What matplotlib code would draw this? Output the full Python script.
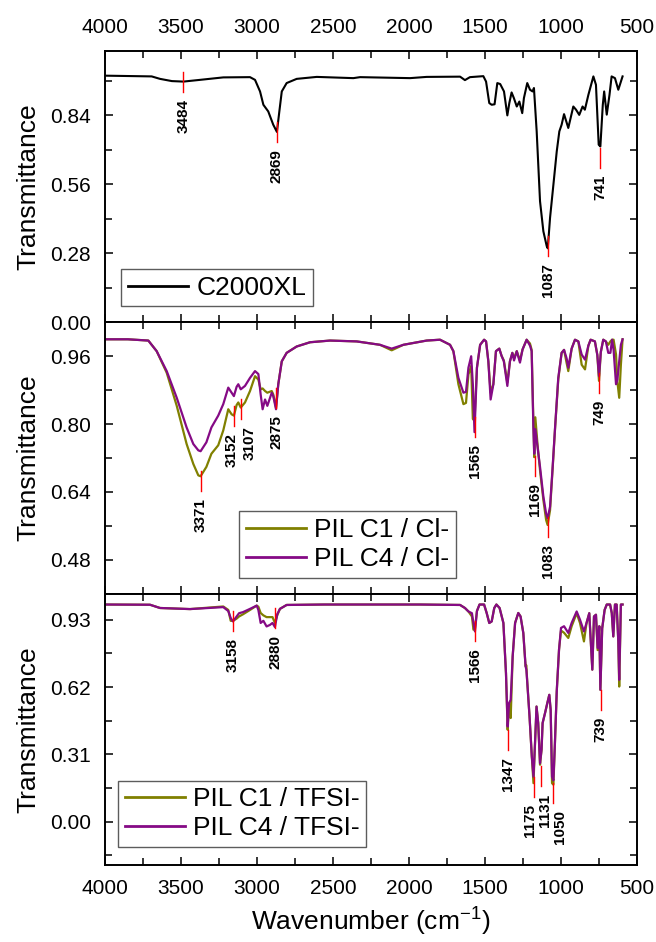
import numpy as np
import matplotlib
matplotlib.use("Agg")
import matplotlib.pyplot as plt
from matplotlib.ticker import MultipleLocator, AutoMinorLocator, FormatStrFormatter

plt.rcParams['font.family'] = ['Liberation Sans', 'DejaVu Sans']
plt.rcParams['mathtext.fontset'] = 'custom'
plt.rcParams['mathtext.rm'] = 'Liberation Sans'
plt.rcParams['mathtext.it'] = 'Liberation Sans:italic'
plt.rcParams['mathtext.bf'] = 'Liberation Sans:bold'

# ---------------- data ----------------
x_ticks = [4000, 3500, 3000, 2500, 2000, 1500, 1000, 500]

# Panel 1: C2000XL
wn_c2000 = [4000, 3693, 3638, 3560, 3484, 3375, 3222, 3046, 3013, 2980, 2958, 2926, 2893,
            2869, 2853, 2837, 2805, 2739, 2607, 2366, 2322, 1993, 1884, 1664, 1632, 1599,
            1511, 1493, 1472, 1456, 1437, 1419, 1400, 1375, 1353, 1340, 1325, 1310, 1291,
            1274, 1255, 1244, 1222, 1204, 1187, 1178, 1160, 1138, 1116, 1094, 1087, 1072,
            1050, 1028, 1011, 996, 980, 952, 919, 901, 880, 858, 843, 820, 787, 770, 752,
            741, 725, 716, 699, 681, 667, 645, 623, 595]
t_c2000 = [1.000, 0.997, 0.987, 0.978, 0.976, 0.983, 0.993, 0.994, 0.983, 0.936, 0.882, 0.855, 0.801,
           0.772, 0.855, 0.936, 0.970, 0.987, 0.995, 0.990, 0.994, 0.990, 0.995, 0.996, 0.982, 0.994,
           0.998, 0.976, 0.889, 0.882, 0.884, 0.970, 0.966, 0.936, 0.839, 0.889, 0.932, 0.909, 0.875,
           0.895, 0.848, 0.909, 0.970, 0.943, 0.936, 0.950, 0.774, 0.491, 0.369, 0.309, 0.300, 0.424,
           0.558, 0.693, 0.774, 0.801, 0.844, 0.788, 0.875, 0.862, 0.841, 0.875, 0.862, 0.922, 0.997,
           0.963, 0.720, 0.713, 0.882, 0.936, 0.842, 0.922, 0.997, 0.990, 0.943, 0.997]
peaks1 = [3484, 2869, 1087, 741]
peaks1_t = [0.975, 0.773, 0.309, 0.667]

# Panel 2: PIL / Cl-
wn_cl = [4000, 3850, 3715, 3660, 3594, 3528, 3463, 3419, 3386, 3371, 3333, 3300, 3255, 3222,
         3189, 3167, 3152, 3134, 3123, 3107, 3079, 3046, 3013, 2991, 2976, 2963, 2947, 2932,
         2903, 2893, 2875, 2860, 2837, 2805, 2739, 2651, 2520, 2344, 2191, 2114, 2037, 1884,
         1796, 1730, 1708, 1675, 1642, 1625, 1609, 1591, 1580, 1569, 1553, 1532, 1506, 1493,
         1478, 1463, 1445, 1428, 1406, 1391, 1376, 1353, 1336, 1320, 1309, 1291, 1270, 1253,
         1226, 1204, 1193, 1182, 1176, 1169, 1154, 1138, 1116, 1098, 1088, 1072, 1055, 1039,
         1018, 996, 980, 963, 952, 930, 908, 886, 864, 842, 820, 805, 777, 761, 750, 738, 722,
         705, 689, 675, 664, 654, 638, 629, 617, 606, 595]
t_c1_cl = [1.000, 1.000, 0.997, 0.972, 0.921, 0.843, 0.753, 0.706, 0.679, 0.677, 0.699, 0.730, 0.750, 0.785,
           0.835, 0.823, 0.820, 0.845, 0.851, 0.839, 0.851, 0.878, 0.913, 0.905, 0.882, 0.884, 0.878, 0.874,
           0.878, 0.870, 0.839, 0.894, 0.948, 0.968, 0.983, 0.993, 0.997, 0.995, 0.987, 0.974, 0.987, 0.997,
           0.999, 0.987, 0.972, 0.894, 0.847, 0.850, 0.917, 0.937, 0.812, 0.808, 0.933, 0.987, 0.999, 0.995,
           0.948, 0.874, 0.894, 0.972, 0.978, 0.961, 0.950, 0.898, 0.948, 0.968, 0.955, 0.972, 0.950, 0.976,
           0.999, 0.990, 0.975, 0.810, 0.722, 0.816, 0.750, 0.691, 0.621, 0.574, 0.562, 0.597, 0.695, 0.790,
           0.905, 0.968, 0.975, 0.944, 0.925, 0.978, 0.999, 0.995, 0.940, 0.929, 0.985, 0.999, 0.995, 0.963,
           0.902, 0.970, 0.999, 0.995, 0.987, 0.995, 0.999, 0.999, 0.964, 0.900, 0.862, 0.940, 1.000]
t_c4_cl = [1.000, 1.000, 0.997, 0.972, 0.925, 0.862, 0.792, 0.753, 0.738, 0.736, 0.757, 0.792, 0.820, 0.847,
           0.886, 0.874, 0.866, 0.888, 0.894, 0.882, 0.890, 0.909, 0.925, 0.918, 0.870, 0.835, 0.858, 0.843,
           0.874, 0.866, 0.835, 0.894, 0.948, 0.968, 0.983, 0.993, 0.997, 0.995, 0.987, 0.978, 0.987, 0.997,
           0.999, 0.987, 0.972, 0.909, 0.874, 0.876, 0.933, 0.960, 0.894, 0.781, 0.933, 0.987, 0.999, 0.995,
           0.948, 0.858, 0.894, 0.972, 0.978, 0.961, 0.948, 0.890, 0.948, 0.968, 0.950, 0.972, 0.945, 0.976,
           0.999, 0.985, 0.972, 0.795, 0.730, 0.788, 0.745, 0.699, 0.629, 0.589, 0.578, 0.605, 0.699, 0.792,
           0.909, 0.968, 0.975, 0.955, 0.933, 0.978, 0.999, 0.995, 0.964, 0.952, 0.985, 0.999, 0.995, 0.963,
           0.913, 0.970, 0.999, 0.995, 0.968, 0.968, 0.999, 0.975, 0.894, 0.905, 0.948, 0.987, 1.000]
peaks2 = [3371, 3152, 3107, 2875, 1565, 1169, 1083, 749]
peaks2_t = [0.665, 0.820, 0.836, 0.862, 0.794, 0.700, 0.558, 0.897]

# Panel 3: PIL / TFSI-
wn_tf = [4000, 3704, 3638, 3441, 3222, 3189, 3173, 3158, 3134, 3118, 3092, 3046, 3002, 2991,
         2976, 2958, 2937, 2915, 2898, 2882, 2867, 2849, 2805, 2559, 1928, 1664, 1632, 1609,
         1586, 1576, 1566, 1553, 1536, 1506, 1489, 1472, 1456, 1439, 1425, 1404, 1379, 1362,
         1351, 1342, 1331, 1318, 1302, 1281, 1266, 1248, 1233, 1228, 1223, 1207, 1192, 1181,
         1170, 1161, 1150, 1138, 1128, 1121, 1105, 1090, 1077, 1068, 1059, 1050, 1040, 1028,
         1013, 1000, 980, 952, 930, 897, 875, 849, 832, 814, 794, 783, 770, 759, 748, 741, 729,
         713, 699, 677, 666, 656, 645, 634, 623, 617, 606, 595]
t_c1_tf = [1.000, 0.999, 0.984, 0.979, 0.991, 0.975, 0.925, 0.925, 0.935, 0.945, 0.955, 0.975, 0.995, 0.990,
           0.961, 0.950, 0.942, 0.942, 0.942, 0.915, 0.950, 0.980, 0.998, 1.000, 1.000, 0.998, 0.984, 0.968,
           0.945, 0.884, 0.890, 0.970, 1.000, 1.000, 0.961, 0.915, 0.922, 0.984, 1.000, 0.984, 0.915, 0.684,
           0.423, 0.530, 0.477, 0.761, 0.915, 0.961, 0.945, 0.869, 0.715, 0.720, 0.653, 0.484, 0.300, 0.177,
           0.377, 0.530, 0.454, 0.262, 0.331, 0.454, 0.500, 0.546, 0.584, 0.515, 0.177, 0.170, 0.361, 0.600,
           0.792, 0.880, 0.870, 0.846, 0.900, 0.960, 0.915, 0.830, 0.915, 0.960, 0.700, 0.945, 0.953, 0.790,
           0.900, 0.607, 0.890, 0.975, 1.000, 1.000, 0.961, 0.853, 1.000, 1.000, 0.830, 0.622, 1.000, 1.000]
t_c4_tf = [1.000, 0.999, 0.984, 0.979, 0.988, 0.970, 0.938, 0.922, 0.945, 0.960, 0.965, 0.980, 0.995, 0.975,
           0.915, 0.925, 0.899, 0.906, 0.915, 0.896, 0.955, 0.980, 0.998, 1.000, 1.000, 0.998, 0.984, 0.968,
           0.960, 0.915, 0.876, 0.970, 1.000, 1.000, 0.961, 0.915, 0.922, 0.984, 1.000, 0.984, 0.915, 0.684,
           0.438, 0.546, 0.561, 0.761, 0.915, 0.961, 0.945, 0.869, 0.715, 0.700, 0.653, 0.484, 0.300, 0.207,
           0.377, 0.530, 0.454, 0.269, 0.331, 0.454, 0.500, 0.546, 0.584, 0.515, 0.207, 0.190, 0.361, 0.600,
           0.792, 0.892, 0.900, 0.869, 0.915, 0.968, 0.930, 0.876, 0.915, 0.960, 0.700, 0.945, 0.953, 0.800,
           0.900, 0.607, 0.890, 0.975, 1.000, 1.000, 0.961, 0.853, 1.000, 1.000, 0.830, 0.653, 1.000, 1.000]
peaks3 = [3158, 2880, 1566, 1347, 1175, 1131, 1050, 739]
peaks3_t = [0.922, 0.938, 0.876, 0.377, 0.161, 0.208, 0.131, 0.561]

# ---------------- styling / layout ----------------
OLIVE = '#808000'
PURPLE = '#850a85'
DPI = 100
fig = plt.figure(figsize=(6.56, 9.42), dpi=DPI)

L, R = 105, 637
TOP, BOT = 51, 865
H = (BOT - TOP) / 3.0
W_px, H_px = 656, 942

def make_ax(i):
    y0 = TOP + i * H
    return fig.add_axes([L / W_px, 1 - (y0 + H) / H_px, (R - L) / W_px, H / H_px])

axes = [make_ax(i) for i in range(3)]
ylims = [(0.0, 1.10), (0.40, 1.04), (-0.20, 1.05)]
ymaj = [0.28, 0.16, 0.31]

TICK_FS = 15
LAB_FS = 19
PEAK_FS = 11
px2pt = 72.0 / DPI

for ax, yl, ym in zip(axes, ylims, ymaj):
    ax.set_xlim(4000, 500)
    ax.set_ylim(*yl)
    ax.set_xticks(x_ticks)
    ax.xaxis.set_minor_locator(AutoMinorLocator(2))
    ax.yaxis.set_major_locator(MultipleLocator(ym))
    ax.yaxis.set_minor_locator(AutoMinorLocator(2))
    ax.yaxis.set_major_formatter(FormatStrFormatter('%.2f'))
    ax.tick_params(which='both', direction='in', top=True, right=True, bottom=True, left=True,
                   labelsize=TICK_FS, pad=10, width=1.1)
    ax.tick_params(which='major', length=6)
    ax.tick_params(which='minor', length=5)
    ax.tick_params(axis='x', labelbottom=False, labeltop=False)
    for s in ax.spines.values():
        s.set_linewidth(1.4)
    ax.set_ylabel('Transmittance', fontsize=LAB_FS, labelpad=7)

axes[0].tick_params(axis='x', labeltop=True)
axes[2].tick_params(axis='x', labelbottom=True)
axes[2].set_xlabel('Wavenumber (cm$^{\\mathregular{-1}}$)', fontsize=LAB_FS, labelpad=6)

axes[0].plot(wn_c2000, t_c2000, color='black', lw=1.5, label='C2000XL')
axes[1].plot(wn_cl, t_c1_cl, color=OLIVE, lw=1.6, label='PIL C1 / Cl-')
axes[1].plot(wn_cl, t_c4_cl, color=PURPLE, lw=1.6, label='PIL C4 / Cl-')
axes[2].plot(wn_tf, t_c1_tf, color=OLIVE, lw=1.6, label='PIL C1 / TFSI-')
axes[2].plot(wn_tf, t_c4_tf, color=PURPLE, lw=1.6, label='PIL C4 / TFSI-')

label_dx = {3152: -2, 3107: 9, 1175: -4, 1131: 4, 1050: 7}

def mark_peaks(ax, pk, pt):
    y0, y1 = ax.get_ylim()
    half_px = 10
    d = half_px / H * (y1 - y0)
    for w, t in zip(pk, pt):
        ax.plot([w, w], [t - d, t + d], color='red', lw=1.0, zorder=5)
        ax.annotate(str(w), xy=(w, t - d), xytext=(label_dx.get(w, 0) * px2pt, -7 * px2pt),
                    textcoords='offset points', rotation=90, ha='center', va='top',
                    fontsize=PEAK_FS, fontweight='bold', color='black')

mark_peaks(axes[0], peaks1, peaks1_t)
mark_peaks(axes[1], peaks2, peaks2_t)
mark_peaks(axes[2], peaks3, peaks3_t)

def legend(ax, x, y):
    lg = ax.legend(loc='lower left', bbox_to_anchor=(x, y), fontsize=LAB_FS, frameon=True,
                   fancybox=False, edgecolor='#333333', handlelength=2.3, handletextpad=0.3,
                   borderpad=0.25, labelspacing=0.2, borderaxespad=0.0)
    lg.get_frame().set_linewidth(1.0)
    for ln in lg.get_lines():
        ln.set_linewidth(2.0)

legend(axes[0], (121 - L) / (R - L), 16 / H)
legend(axes[1], (239 - L) / (R - L), 16 / H)
legend(axes[2], (118 - L) / (R - L), 18 / H)

fig.savefig('out.png', dpi=DPI)
